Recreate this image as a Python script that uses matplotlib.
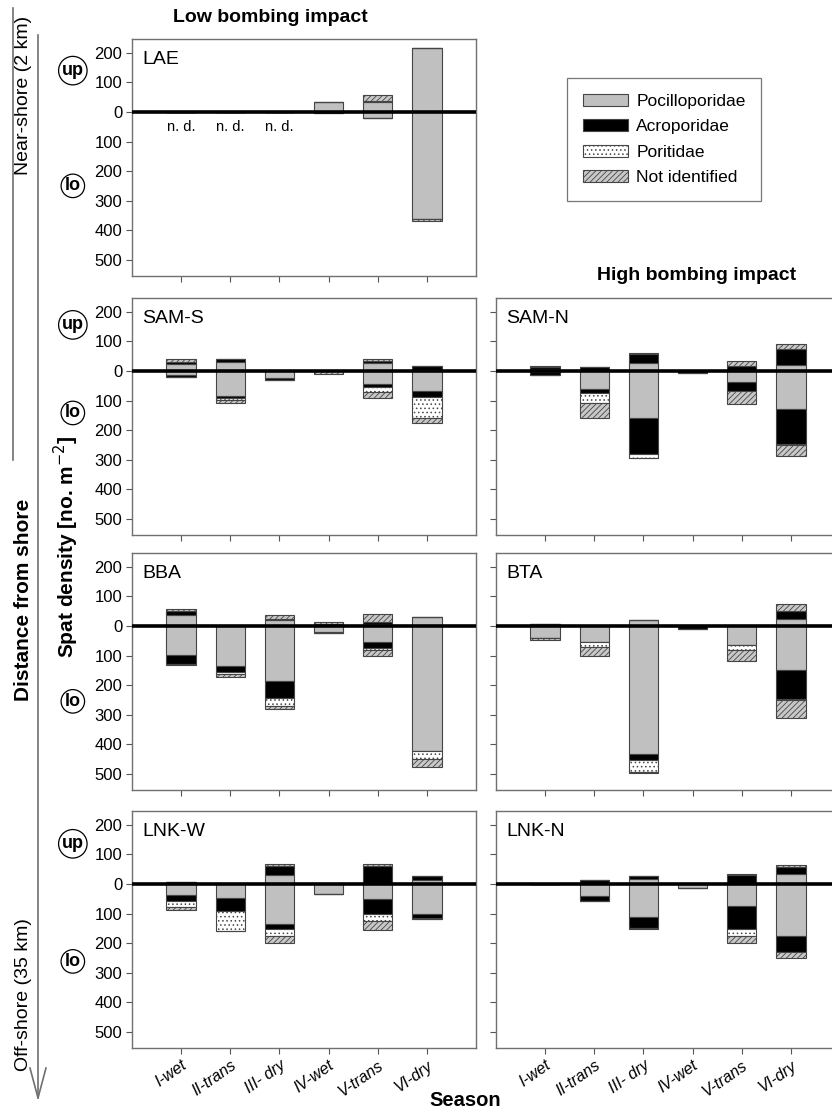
import numpy as np
import matplotlib
matplotlib.use('Agg')
from matplotlib import pyplot as plt
from matplotlib.patches import Patch
import matplotlib.transforms as mtransforms

plt.rcParams['font.family'] = ['Liberation Sans', 'DejaVu Sans']
plt.rcParams['hatch.linewidth'] = 0.6

seasons = ['I-wet', 'II-trans', 'III- dry', 'IV-wet', 'V-trans', 'VI-dry']
families = ['Pocilloporidae', 'Acroporidae', 'Poritidae', 'Not identified']

# rows: Pocilloporidae, Acroporidae, Poritidae, Not identified
lae_up = [[0, 0, 0, 35, 35, 216], [0, 0, 0, 0, 3, 0], [0, 0, 0, 0, 0, 0], [0, 0, 0, 0, 19, 0]]
lae_lo = [[0, 0, 0, 0, 22, 361], [0, 0, 0, 5, 0, 0], [0, 0, 0, 0, 0, 0], [0, 0, 0, 0, 0, 7]]

sams_up = [[22, 32, 0, 0, 28, 0], [8, 8, 0, 0, 5, 18], [0, 0, 0, 0, 0, 0], [10, 0, 0, 0, 7, 0]]
sams_lo = [[12, 85, 25, 0, 45, 67], [8, 6, 6, 0, 8, 20], [0, 8, 0, 0, 17, 73], [0, 11, 0, 10, 20, 15]]

samn_up = [[8, 0, 27, 0, 0, 20], [5, 14, 29, 0, 18, 53], [0, 0, 0, 0, 0, 0], [5, 0, 6, 0, 16, 18]]
samn_lo = [[3, 60, 160, 0, 36, 128], [9, 14, 121, 6, 32, 118], [0, 33, 12, 0, 0, 5], [0, 53, 3, 0, 45, 36]]

bba_up = [[36, 0, 19, 0, 8, 32], [16, 0, 6, 8, 5, 0], [0, 0, 0, 0, 0, 0], [5, 0, 11, 4, 27, 0]]
bba_lo = [[98, 135, 185, 20, 55, 423], [31, 22, 60, 5, 20, 0], [0, 5, 27, 0, 5, 27], [4, 10, 10, 0, 20, 27]]

bta_up = [[8, 0, 20, 0, 0, 23], [0, 0, 0, 0, 0, 29], [0, 0, 0, 0, 0, 0], [0, 0, 0, 0, 0, 23]]
bta_lo = [[42, 53, 433, 0, 65, 150], [0, 0, 19, 9, 0, 96], [0, 17, 43, 0, 17, 5], [7, 30, 4, 0, 38, 62]]

lnkw_up = [[8, 0, 30, 0, 5, 15], [0, 0, 32, 0, 55, 13], [0, 0, 0, 0, 0, 0], [0, 0, 5, 0, 8, 0]]
lnkw_lo = [[37, 48, 134, 33, 50, 100], [21, 45, 18, 0, 50, 14], [20, 66, 25, 0, 25, 6], [11, 0, 22, 0, 30, 0]]

lnkn_up = [[0, 0, 17, 0, 0, 33], [0, 14, 9, 0, 29, 25], [0, 0, 0, 0, 0, 0], [0, 0, 0, 0, 6, 6]]
lnkn_lo = [[0, 40, 113, 15, 76, 177], [0, 19, 37, 0, 77, 52], [0, 0, 0, 0, 22, 0], [0, 0, 2, 0, 26, 20]]

styles = [dict(color='#c0c0c0', hatch=None),
          dict(color='black', hatch=None),
          dict(color='white', hatch='....'),
          dict(color='#c8c8c8', hatch='//////')]
edge = '#454545'

W, H = 832, 1116
fig = plt.figure(figsize=(W / 100, H / 100), dpi=100)


def px_axes(x0, y0, x1, y1):
    return fig.add_axes([x0 / W, 1 - y1 / H, (x1 - x0) / W, (y1 - y0) / H])


def draw_panel(ax, name, up, lo, labels_y=True, labels_x=False):
    x = np.arange(1, 7)
    for sign, data in ((1, up), (-1, lo)):
        base = np.zeros(6)
        for i, vals in enumerate(data):
            vals = np.array(vals, dtype=float)
            st = styles[i]
            ax.bar(x, sign * vals, 0.6, bottom=sign * base, color=st['color'],
                   hatch=st['hatch'], edgecolor=edge, linewidth=0.8)
            base = base + vals
    ax.axhline(0, color='black', lw=2.6, zorder=5)
    ax.set_xlim(0, 7)
    ax.set_ylim(-555, 247)
    ax.set_yticks([200, 100, 0, -100, -200, -300, -400, -500])
    if labels_y:
        ax.set_yticklabels(['200', '100', '0', '100', '200', '300', '400', '500'], fontsize=12)
    else:
        ax.set_yticklabels([])
    ax.set_xticks(x)
    if labels_x:
        ax.set_xticklabels(seasons, rotation=35, ha='right', rotation_mode='anchor',
                           fontsize=11.5, style='italic')
    else:
        ax.set_xticklabels([])
    ax.tick_params(direction='out', length=4, width=0.8, color='#555555', pad=3)
    for s in ax.spines.values():
        s.set_color('#707070')
        s.set_linewidth(1.0)
    ax.text(0.03, 0.95, name, transform=ax.transAxes, fontsize=14, va='top', ha='left')


rows = [(39, 276), (298, 535), (553, 790), (811, 1048)]
lx0, lx1 = 132, 476
rx0, rx1 = 496, 840

ax_lae = px_axes(lx0, rows[0][0], lx1, rows[0][1])
draw_panel(ax_lae, 'LAE', lae_up, lae_lo)
for xi in (1, 2, 3):
    ax_lae.text(xi, -52, 'n. d.', ha='center', va='center', fontsize=10.5)

ax_sams = px_axes(lx0, rows[1][0], lx1, rows[1][1])
draw_panel(ax_sams, 'SAM-S', sams_up, sams_lo)
ax = px_axes(rx0, rows[1][0], rx1, rows[1][1])
draw_panel(ax, 'SAM-N', samn_up, samn_lo, labels_y=False)

ax_bba = px_axes(lx0, rows[2][0], lx1, rows[2][1])
draw_panel(ax_bba, 'BBA', bba_up, bba_lo)
ax = px_axes(rx0, rows[2][0], rx1, rows[2][1])
draw_panel(ax, 'BTA', bta_up, bta_lo, labels_y=False)

ax_lnkw = px_axes(lx0, rows[3][0], lx1, rows[3][1])
draw_panel(ax_lnkw, 'LNK-W', lnkw_up, lnkw_lo, labels_x=True)
ax = px_axes(rx0, rows[3][0], rx1, rows[3][1])
draw_panel(ax, 'LNK-N', lnkn_up, lnkn_lo, labels_y=False, labels_x=True)

# up / lo circles
marks = [(ax_lae, 'up', 140), (ax_lae, 'lo', -250),
         (ax_sams, 'up', 156), (ax_sams, 'lo', -142),
         (ax_bba, 'lo', -255),
         (ax_lnkw, 'up', 136), (ax_lnkw, 'lo', -262)]
for a, lab, yv in marks:
    tr = mtransforms.blended_transform_factory(a.transAxes, a.transData)
    a.text(-0.172, yv, lab, transform=tr, ha='center', va='center', fontsize=13,
           fontweight='bold', clip_on=False,
           bbox=dict(boxstyle='circle,pad=0.18', fc='white', ec='black', lw=0.9))

# legend
handles = [Patch(facecolor=st['color'], hatch=st['hatch'], edgecolor=edge, linewidth=0.8)
           for st in styles]
leg = fig.legend(handles, families, loc='upper left', bbox_to_anchor=(567 / W, 1 - 78 / H),
                 borderaxespad=0, fontsize=12.5, frameon=True, fancybox=False,
                 edgecolor='#555555', handlelength=2.6, handleheight=0.7, borderpad=0.9,
                 labelspacing=0.6, handletextpad=0.5)
leg.get_frame().set_linewidth(0.9)

# titles and labels
fig.text(270 / W, 1 - 17 / H, 'Low bombing impact', ha='center', va='center',
         fontsize=14, fontweight='bold')
fig.text(697 / W, 1 - 276 / H, 'High bombing impact', ha='center', va='center',
         fontsize=14, fontweight='bold')
fig.text(465 / W, 1 - 1101 / H, 'Season', ha='center', va='center',
         fontsize=14.5, fontweight='bold')
fig.text(66 / W, 1 - 547 / H, 'Spat density [no. m$^{-2}$]', rotation=90,
         ha='center', va='center', fontsize=15, fontweight='bold')

# distance from shore annotation
fig.add_artist(plt.Line2D([13 / W, 13 / W], [1 - 8 / H, 1 - 460 / H], color='#707070', lw=1.2))
fig.text(24 / W, 1 - 95 / H, 'Near-shore (2 km)', rotation=90, ha='center', va='center', fontsize=14)
fig.text(24 / W, 1 - 600 / H, 'Distance from shore', rotation=90, ha='center', va='center',
         fontsize=15, fontweight='bold')
fig.text(24 / W, 1 - 995 / H, 'Off-shore (35 km)', rotation=90, ha='center', va='center', fontsize=14)
fig.add_artist(plt.Line2D([38 / W, 38 / W], [1 - 35 / H, 1 - 1098 / H], color='#707070', lw=1.2))
fig.add_artist(plt.Line2D([30 / W, 38 / W, 46 / W], [1 - 1068 / H, 1 - 1098 / H, 1 - 1068 / H],
                          color='#707070', lw=1.2))

fig.savefig('out.png', dpi=100)
